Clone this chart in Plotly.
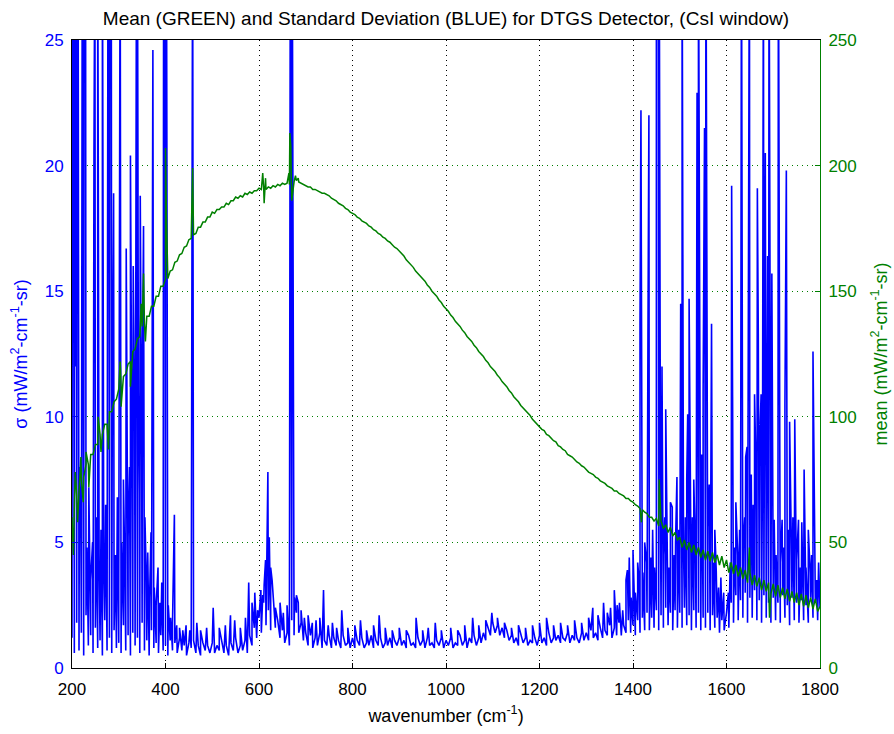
import plotly.graph_objects as go

# ---------------- data ----------------
W_START = 200
W_STEP = 5

# standard deviation baseline, every 5 cm^-1 from 200 to 1800
sigma_base = [
    1.2, 0.6, 1.8, 0.7, 1.4, 0.5, 2.1, 0.9, 1.3, 0.6, 1.6, 0.8, 1.1, 0.5, 1.9, 0.7, 1.2, 0.6, 1.5, 0.8,
    1.0, 0.6, 1.7, 0.7, 1.3, 0.5, 1.4, 0.9, 1.2, 0.6, 1.8, 0.7, 1.1, 0.5, 1.5, 0.8, 1.0, 0.6, 1.3, 0.7,
    0.9, 0.5, 1.1, 0.7, 1.0, 0.6, 1.2, 0.7, 0.9, 0.5, 1.0, 0.8, 1.1, 0.6, 0.9, 0.5, 1.0, 0.7, 0.9, 0.6,
    1.0, 0.6, 0.9, 0.7, 1.1, 0.6, 0.9, 0.5, 1.0, 0.7, 1.2, 0.6, 0.9, 0.7, 1.1, 0.6, 1.3, 0.9, 1.6, 1.2,
    2.0, 1.4, 2.6, 1.7, 2.3, 1.5, 2.8, 1.6, 1.9, 1.2, 1.5, 1.0, 1.4, 0.9, 1.9, 1.3, 2.2, 1.4, 1.8, 1.1,
    1.4, 0.9, 1.3, 0.8, 1.2, 0.9, 1.4, 0.8, 1.1, 0.9, 1.3, 0.8, 1.2, 0.9, 1.1, 0.8, 1.3, 0.9, 1.0, 0.8,
    1.2, 0.8, 1.1, 0.9, 1.2, 0.8, 1.0, 0.9, 1.3, 0.8, 1.1, 0.9, 1.2, 0.8, 1.0, 0.9, 1.2, 0.8, 1.1, 0.9,
    1.2, 0.9, 1.1, 0.8, 1.3, 0.9, 1.0, 0.8, 1.2, 0.9, 1.1, 0.8, 1.2, 0.9, 1.0, 0.8, 1.1, 0.9, 1.2, 0.8,
    1.1, 0.9, 1.2, 0.8, 1.0, 0.9, 1.3, 0.9, 1.1, 0.8, 1.2, 1.0, 1.3, 0.9, 1.2, 1.0, 1.4, 1.1, 1.6, 1.3,
    1.8, 1.4, 1.7, 1.3, 1.6, 1.2, 1.5, 1.1, 1.3, 1.0, 1.2, 0.9, 1.3, 1.0, 1.2, 0.9, 1.1, 1.0, 1.2, 0.9,
    1.3, 1.0, 1.2, 0.9, 1.4, 1.0, 1.2, 1.1, 1.3, 1.0, 1.2, 1.1, 1.4, 1.0, 1.3, 1.1, 1.2, 1.0, 1.4, 1.1,
    1.4, 1.1, 1.5, 1.2, 1.4, 1.1, 1.6, 1.2, 1.5, 1.3, 1.7, 1.2, 1.6, 1.3, 1.8, 1.3, 1.7, 1.4, 1.9, 1.4,
    1.7, 1.3, 1.9, 1.4, 2.0, 1.5, 2.2, 1.5, 2.0, 1.6, 2.3, 1.5, 2.1, 1.6, 2.4, 1.7, 2.2, 1.5, 2.3, 1.6,
    2.2, 1.6, 2.4, 1.7, 2.1, 1.5, 2.3, 1.6, 2.2, 1.5, 2.0, 1.6, 2.2, 1.5, 2.1, 1.6, 2.0, 1.4, 1.9, 1.5,
    2.2, 1.6, 2.6, 1.8, 2.9, 1.9, 2.7, 2.0, 3.0, 1.8, 2.8, 2.0, 3.1, 1.9, 2.7, 1.8, 2.9, 2.0, 2.6, 1.8,
    2.8, 1.9, 2.6, 1.8, 2.9, 2.0, 2.5, 1.7, 2.8, 1.9, 2.6, 1.8, 2.7, 1.9, 2.5, 1.8, 2.8, 2.0, 2.6, 1.9,
    2.4,
]

# standard deviation spikes: wavenumber, value (values above 25 run off the top)
sigma_spike_w = [
    201, 203, 205, 207, 209, 211, 213, 216, 219, 222, 224, 226, 229, 232, 236, 240, 244, 247, 249, 252,
    255, 258, 262, 265, 268, 272, 277, 279, 281, 284, 286, 289, 293, 297, 300, 303, 306, 310, 313, 316,
    320, 323, 325, 328, 331, 334, 338, 340, 342, 344, 346, 349, 351, 353, 356, 359, 362, 366, 369, 373,
    376, 380, 384, 388, 392, 396, 398, 400, 402, 406, 411, 415, 419, 424, 430, 437, 444, 452, 458, 467,
    475, 488, 502, 515, 528, 539, 548, 560, 571, 578, 585, 591, 597, 604, 608, 611, 614, 617, 619, 622,
    625, 628, 635, 645, 652, 660, 667, 669, 671, 676, 680, 684, 690, 697, 705, 714, 722, 730, 738, 748,
    757, 766, 777, 790, 805, 817, 830, 845, 857, 870, 885, 900, 915, 936, 950, 962, 977, 990, 1010, 1025,
    1040, 1057, 1070, 1085, 1098, 1110, 1125, 1140, 1155, 1170, 1185, 1200, 1215, 1230, 1245, 1260, 1275, 1290, 1305, 1314,
    1325, 1337, 1345, 1352, 1360, 1366, 1371, 1378, 1385, 1388, 1392, 1396, 1400, 1405, 1410, 1413, 1415, 1417, 1421, 1425,
    1429, 1432, 1434, 1438, 1442, 1446, 1450, 1452, 1454, 1456, 1459, 1462, 1465, 1468, 1470, 1474, 1477, 1480, 1484, 1488,
    1491, 1494, 1498, 1502, 1505, 1508, 1512, 1515, 1517, 1520, 1524, 1527, 1530, 1533, 1537, 1540, 1544, 1547, 1550, 1553,
    1556, 1560, 1563, 1566, 1568, 1572, 1575, 1578, 1583, 1588, 1594, 1604, 1608, 1611, 1613, 1617, 1620, 1624, 1628, 1632,
    1636, 1639, 1641, 1644, 1649, 1653, 1657, 1660, 1663, 1666, 1668, 1671, 1674, 1677, 1679, 1683, 1686, 1688, 1691, 1694,
    1697, 1700, 1702, 1706, 1711, 1715, 1719, 1722, 1725, 1728, 1732, 1735, 1739, 1742, 1746, 1750, 1754, 1758, 1761, 1766,
    1770, 1775, 1779, 1782, 1785, 1789, 1793, 1797,
]
sigma_spike_v = [
    30, 23.5, 30, 12, 30, 22, 30, 8, 5.5, 30, 14, 30, 30, 4.8, 7.2, 3.5, 5, 20.5, 30, 6,
    30, 4.2, 5.5, 30, 3.8, 6.5, 30, 30, 30, 30, 9, 18.9, 4.5, 6.8, 3.2, 30, 5, 7.5, 4, 16.7,
    5.2, 8, 20.4, 6, 16, 9.5, 30, 30, 11, 7, 18.8, 8.2, 12.5, 17.6, 6, 3.5, 4.6, 2.8, 5.4, 24.6,
    3.2, 2.5, 4.0, 2.6, 3.4, 30, 30, 30, 30, 2.5, 2.0, 1.8, 6.1, 1.7, 1.6, 1.5, 1.7, 1.5, 30, 1.8,
    1.5, 1.6, 2.4, 1.6, 1.7, 2.1, 1.9, 1.6, 2.0, 3.4, 2.6, 3.0, 2.3, 3.1, 2.9, 3.3, 4.3, 6.0, 7.8, 5.2,
    4.0, 3.5, 2.4, 2.6, 2.2, 2.5, 30, 16.3, 30, 2.8, 2.9, 2.6, 2.3, 2.0, 2.1, 1.8, 1.9, 2.0, 3.1, 1.7,
    1.8, 1.6, 2.3, 1.6, 1.7, 1.9, 1.5, 1.7, 2.1, 1.6, 1.5, 1.6, 1.5, 2.0, 1.5, 1.6, 1.8, 1.5, 1.6, 1.5,
    1.7, 2.0, 1.7, 1.9, 2.2, 2.0, 1.8, 1.6, 1.7, 1.6, 1.7, 1.8, 2.0, 1.7, 1.8, 1.7, 1.9, 1.8, 2.0, 2.4,
    2.1, 2.6, 2.2, 2.4, 3.1, 2.5, 2.6, 2.3, 3.5, 3.9, 4.4, 2.8, 4.7, 3.0, 4.2, 3.5, 13.7, 22.2, 3.8, 5.0,
    4.2, 13.2, 22.0, 4.4, 5.5, 4.0, 30, 30, 30, 30, 5.2, 12.0, 4.5, 6.0, 10.3, 5.0, 4.0, 6.6, 6.4, 4.5,
    5.0, 7.6, 5.5, 14.5, 30, 4.8, 6.0, 7.5, 10.1, 14.7, 5.5, 6.0, 7.5, 5.0, 22.9, 30, 6.5, 8.5, 11, 21.5,
    30, 5.6, 7.3, 5.5, 13.7, 4.2, 5.5, 3.9, 3.2, 3.6, 3.0, 3.0, 4.2, 19.2, 10.8, 4.8, 6.6, 4.5, 5.5, 30,
    5.0, 6.0, 8.4, 8.8, 30, 7.7, 6.5, 10.9, 8.0, 19.1, 13.3, 9.0, 10.9, 8.0, 30, 20.5, 12.0, 16.4, 30, 9.0,
    15.7, 5.0, 5.9, 4.5, 30, 4.2, 5.9, 4.8, 10.5, 19.8, 5.5, 9.8, 4.5, 6.0, 9.9, 4.3, 5.9, 4.0, 5.8, 7.9,
    4.0, 5.5, 3.8, 4.5, 12.6, 4.3, 3.5, 4.2,
]

# mean baseline, every 5 cm^-1 from 200 to 1800
mean_base = [
    60, 64, 69, 70, 75, 76, 81, 81, 85, 85,
    89, 89, 93, 93, 97, 97, 102, 102, 106, 107,
    111, 112, 116, 117, 121, 122, 126, 127, 131, 132,
    136, 137, 140, 140, 144, 144, 148, 148, 152, 152,
    155, 155, 158, 158.5, 161.5, 162, 164.5, 165, 167.5, 168,
    170.5, 171, 172.5, 173, 175.5, 175.5, 177.5, 177.5, 179.5, 179.5,
    181.5, 181, 182.5, 182.5, 183.5, 183.5, 185, 184.5, 186, 186,
    187.5, 187, 188, 187.5, 189, 188.5, 189.5, 189, 190, 190,
    191, 190.5, 191, 190.5, 191.5, 191, 192, 191.5, 192.5, 192,
    193, 192.5, 193, 192.5, 193, 193.5, 194, 193.5, 193, 192.5,
    192, 191.5, 191.5, 190.5, 190.5, 190, 189.5, 189, 189, 188.5,
    188, 187, 186.5, 186, 185, 184.5, 184, 183, 182.5, 181.5,
    181, 180.5, 179.5, 179, 178, 177.5, 177, 176, 175.5, 174.5,
    174, 173, 172.5, 171.5, 171, 170, 169.5, 168.5, 167.5, 167,
    166, 165, 164, 162.5, 161.5, 160.5, 159.5, 158, 157, 156,
    155, 154, 152.5, 151.5, 150, 149, 148, 146.5, 145.5, 144,
    143, 142, 140.5, 139.5, 138, 137, 136, 134.5, 133.5, 132,
    131, 130, 128.5, 127.5, 126, 125, 124, 122.5, 121.5, 120,
    119, 118, 116.5, 115.5, 114, 113, 112, 110.5, 109.5, 108,
    107, 106, 104.5, 103.5, 102.5, 101.5, 100.5, 99, 98, 97,
    96, 95, 94.5, 93, 92.5, 91.5, 90.5, 90, 88.5, 88,
    87, 86.5, 85, 84.5, 84, 83, 82, 81.5, 80.5, 80,
    79, 78, 77.5, 77, 76, 75.5, 74.5, 74, 73.5, 72.5,
    72, 71.5, 70.5, 70.5, 69.5, 69, 68.5, 67.5, 67.5, 66.5,
    66, 65, 64.5, 63.5, 63, 62, 61.5, 60, 60, 58.5,
    59.5, 56.5, 58.5, 55.5, 57, 54, 56, 52.5, 54, 51,
    52, 48, 51, 47, 50, 46, 49, 45, 48, 44,
    47, 43, 46.5, 42.5, 46, 42, 45, 41, 44.5, 40,
    43, 38, 42, 37.5, 41, 36.5, 40, 35.5, 39, 34,
    38, 33, 37, 32.5, 36, 31, 35, 30.5, 34, 29.5,
    33.5, 28.5, 33, 28, 32, 27.5, 31.5, 26.5, 30.5, 26,
    30, 25, 29.5, 24.5, 29, 24, 28, 23.5, 27.5, 22.5,
    24.5,
]

# mean spikes: wavenumber, value
mean_spike_w = [203, 207, 212, 219, 224, 230, 236, 256, 262, 278, 303, 305, 325, 348, 353, 357,
                400, 402, 458, 608, 611, 614, 664, 666, 668, 670, 678, 684, 1418, 1456, 1649, 1692]
mean_spike_v = [45, 78, 58, 84, 66, 86, 72, 100, 86, 87, 122, 104, 112, 145, 157, 130,
                207, 180, 199, 197, 185, 195, 197, 213, 208, 186, 196, 195, 58, 75, 48, 20]

x_ticks = [200, 400, 600, 800, 1000, 1200, 1400, 1600, 1800]
sigma_ticks = [0, 5, 10, 15, 20, 25]
mean_ticks = [0, 50, 100, 150, 200, 250]


# ---------------- build series ----------------
def merge(base, spike_w, spike_v):
    pts = [(W_START + i * W_STEP, v) for i, v in enumerate(base)]
    pts += list(zip(spike_w, spike_v))
    pts.sort(key=lambda p: p[0])
    return [p[0] for p in pts], [p[1] for p in pts]


sx, sy = merge(sigma_base, sigma_spike_w, sigma_spike_v)
mx, my = merge(mean_base, mean_spike_w, mean_spike_v)

BLUE = "#0000FF"
GREEN = "#008000"
FONT = "Liberation Sans, Arial, sans-serif"
TICK_SIZE = 17
LABEL_SIZE = 18

fig = go.Figure()
fig.add_trace(go.Scatter(x=sx, y=sy, mode="lines", line=dict(color=BLUE, width=1.6),
                         yaxis="y", showlegend=False, hoverinfo="skip"))
fig.add_trace(go.Scatter(x=mx, y=my, mode="lines", line=dict(color=GREEN, width=1.5),
                         yaxis="y2", showlegend=False, hoverinfo="skip"))

fig.update_layout(
    width=894, height=734,
    margin=dict(l=72, r=74, t=40, b=66, autoexpand=False),
    paper_bgcolor="white", plot_bgcolor="white",
    font=dict(family=FONT, size=TICK_SIZE, color="black"),
    title=dict(text="Mean (GREEN) and Standard Deviation (BLUE) for DTGS Detector, (CsI window)",
               x=0.5, xref="paper", xanchor="center", y=1 - 18 / 734, yanchor="middle",
               font=dict(family=FONT, size=19, color="black")),
    xaxis=dict(range=[200, 1800], tickvals=x_ticks, ticktext=[str(t) for t in x_ticks],
               ticks="inside", ticklen=5, tickcolor="black", showline=True, linecolor="black",
               linewidth=1, mirror=True, showgrid=True, gridcolor="#000000", griddash="1px,4px",
               gridwidth=1, zeroline=False, ticklabelstandoff=6, automargin=False,
               title=dict(text="wavenumber (cm<sup>-1</sup>)", standoff=10,
                          font=dict(family=FONT, size=LABEL_SIZE, color="black")),
               tickfont=dict(family=FONT, size=TICK_SIZE, color="black")),
    yaxis=dict(range=[0, 25], tickvals=sigma_ticks, ticktext=[str(t) for t in sigma_ticks],
               ticks="inside", ticklen=5, tickcolor=BLUE, showline=True, linecolor="black",
               linewidth=1, showgrid=False, zeroline=False, ticklabelstandoff=4, automargin=False,
               title=dict(text="σ (mW/m<sup>2</sup>-cm<sup>-1</sup>-sr)", standoff=12,
                          font=dict(family=FONT, size=LABEL_SIZE, color=BLUE)),
               tickfont=dict(family=FONT, size=TICK_SIZE, color=BLUE)),
    yaxis2=dict(range=[0, 250], tickvals=mean_ticks, ticktext=[str(t) for t in mean_ticks],
                overlaying="y", side="right", ticks="inside", ticklen=5, tickcolor=GREEN,
                showline=True, linecolor=GREEN, linewidth=1, showgrid=True, gridcolor=GREEN,
                griddash="1px,4px", gridwidth=1, zeroline=False, ticklabelstandoff=4,
                automargin=False,
                title=dict(text="mean (mW/m<sup>2</sup>-cm<sup>-1</sup>-sr)", standoff=18,
                           font=dict(family=FONT, size=LABEL_SIZE, color=GREEN)),
                tickfont=dict(family=FONT, size=TICK_SIZE, color=GREEN)),
)

fig.write_html("out.html")
